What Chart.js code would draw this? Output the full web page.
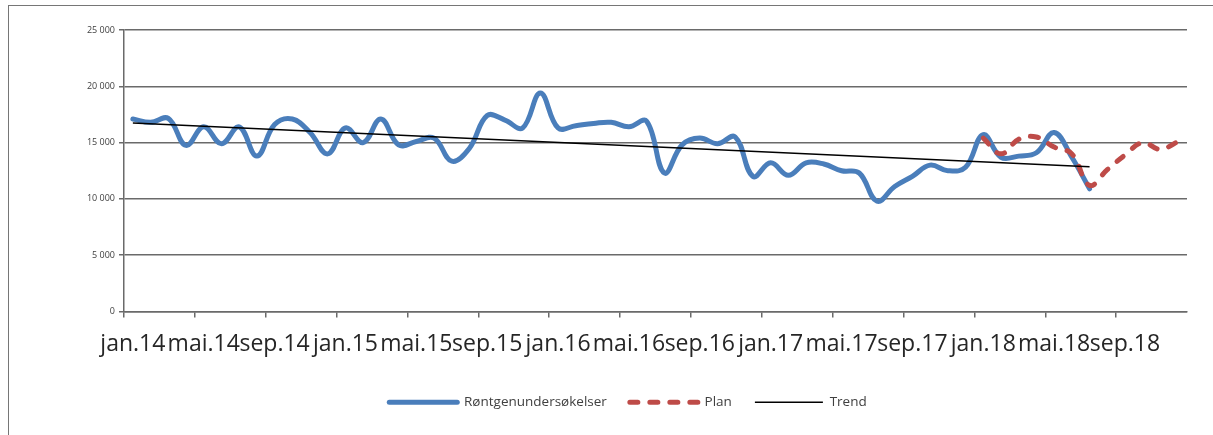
<!DOCTYPE html>
<html lang="no">
<head>
<meta charset="utf-8">
<title>Røntgenundersøkelser</title>
<script src="https://cdn.jsdelivr.net/npm/chart.js@4.4.1/dist/chart.umd.min.js"></script>
<style>
  html, body { margin: 0; padding: 0; background: #fff; }
  body { width: 1213px; height: 435px; position: relative; overflow: hidden; }
  .frame {
    position: absolute; left: 8px; top: 5px; right: -4px; bottom: -4px;
    border-top: 1.5px solid #767676; border-left: 1.5px solid #767676;
  }
  #wrap { position: absolute; left: 0; top: 0; width: 1213px; height: 435px; }
</style>
</head>
<body>
<div class="frame"></div>
<div id="wrap"><canvas id="chart"></canvas></div>
<script>
// månedene jan.14 - des.18
const maaneder = ["jan", "feb", "mar", "apr", "mai", "jun", "jul", "aug", "sep", "okt", "nov", "des"];
const aar = ["14", "15", "16", "17", "18"];
const kategorier = [];
aar.forEach((a) => maaneder.forEach((m) => kategorier.push(m + "." + a)));

// faktisk antall undersøkelser per måned (jan.14 - jul.18)
const rontgen = [
  17100, 16800, 17150, 14750, 16400, 14900, 16400, 13800, 16600, 17100,
  15900, 14000, 16300, 15000, 17100, 14800, 15100, 15400, 13350, 14500,
  17400, 17000, 16300, 19400, 16300, 16500, 16700, 16800, 16400, 16900,
  12300, 14800, 15400, 14900, 15500, 12000, 13200, 12100, 13200, 13100,
  12500, 12300, 9800, 11100, 12000, 13000, 12500, 12800, 15700, 13700,
  13800, 14100, 15900, 13700, 10900
];

// plan for 2018 (jan.18 - des.18)
const planStart = 48;
const plan = [15400, 14000, 15300, 15500, 14600, 14000, 11200, 12600, 13900, 15000, 14400, 15100];

// trendlinje: start- og sluttverdi
const trendStart = 16750;
const trendSlutt = 12850;

const yTicks = [0, 5000, 10000, 15000, 20000, 25000];

function fyll(start, verdier) {
  const arr = new Array(kategorier.length).fill(null);
  verdier.forEach((v, i) => (arr[start + i] = v));
  return arr;
}

const trendData = new Array(kategorier.length).fill(null);
trendData[0] = trendStart;
trendData[rontgen.length - 1] = trendSlutt;

const fontFam = "'Open Sans', 'Liberation Sans', sans-serif";

// legenden skal vise strek med samme stiplemønster som serien
function legendeEtiketter(chart) {
  return Chart.defaults.plugins.legend.labels.generateLabels(chart)
    .sort((a, b) => a.datasetIndex - b.datasetIndex)
    .map((l) => {
      const ds = chart.data.datasets[l.datasetIndex];
      l.lineDash = ds.borderDash || [];
      l.lineWidth = ds.borderWidth;
      l.lineCap = ds.borderCapStyle || "butt";
      l.strokeStyle = ds.borderColor;
      return l;
    });
}

const ctx = document.getElementById("chart").getContext("2d");
new Chart(ctx, {
  type: "line",
  data: {
    labels: kategorier,
    datasets: [
      {
        label: "Røntgenundersøkelser",
        data: fyll(0, rontgen),
        borderColor: "#4a7ebb",
        backgroundColor: "#4a7ebb",
        borderWidth: 5,
        borderCapStyle: "round",
        tension: 0.4,
        pointRadius: 0,
        order: 2,
      },
      {
        label: "Plan",
        data: fyll(planStart, plan),
        borderColor: "#be4b48",
        backgroundColor: "#be4b48",
        borderWidth: 5,
        borderDash: [8, 12],
        borderCapStyle: "round",
        tension: 0.4,
        pointRadius: 0,
        order: 1,
      },
      {
        label: "Trend",
        data: trendData,
        borderColor: "#000",
        backgroundColor: "#000",
        borderWidth: 1.5,
        spanGaps: true,
        tension: 0,
        pointRadius: 0,
        order: 0,
      },
    ],
  },
  options: {
    responsive: true,
    maintainAspectRatio: false,
    animation: false,
    layout: { padding: { left: 69, right: 26, top: 30, bottom: 16 } },
    plugins: {
      tooltip: { enabled: false },
      legend: {
        position: "bottom",
        labels: {
          usePointStyle: true,
          pointStyle: "line",
          pointStyleWidth: 68,
          padding: 23,
          color: "#404040",
          font: { family: fontFam, size: 13.5 },
          generateLabels: legendeEtiketter,
        },
      },
    },
    scales: {
      x: {
        offset: true,
        grid: {
          offset: true,
          drawOnChartArea: false,
          tickLength: 6,
          lineWidth: 1.5,
          tickColor: (c) => (c.index % 4 === 0 ? "#6a6a6a" : "rgba(0,0,0,0)"),
        },
        border: { display: true, color: "#6a6a6a", width: 1.5 },
        ticks: {
          autoSkip: false,
          maxRotation: 0,
          minRotation: 0,
          padding: 13,
          color: "#262626",
          font: { family: fontFam, size: 23 },
          callback: (v, i) => (i % 4 === 0 ? kategorier[i] : ""),
        },
        afterFit: (s) => { s.height = 61; },
      },
      y: {
        min: 0,
        max: 25000,
        afterBuildTicks: (s) => { s.ticks = yTicks.map((v) => ({ value: v })); },
        grid: { color: "#6a6a6a", lineWidth: 1.5, tickLength: 5 },
        border: { display: true, color: "#6a6a6a", width: 1.5 },
        ticks: {
          padding: 4,
          color: "#404040",
          font: { family: fontFam, size: 9 },
          callback: (v) => String(v).replace(/\B(?=(\d{3})+(?!\d))/g, " "),
        },
        afterFit: (s) => { s.width = 55; },
      },
    },
  },
});
</script>
</body>
</html>
